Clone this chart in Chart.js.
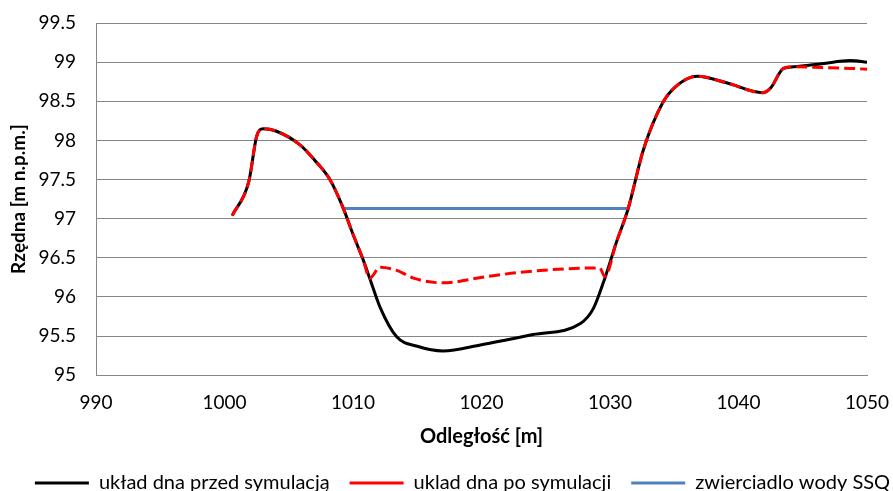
<!DOCTYPE html>
<html>
<head>
<meta charset="utf-8">
<script src="https://cdn.jsdelivr.net/npm/chart.js@4.4.1/dist/chart.umd.min.js"></script>
<style>
  html, body { margin: 0; padding: 0; background: #fff; overflow: hidden; }
  #wrap { width: 893px; height: 491px; overflow: hidden; }
  #box { width: 925px; height: 491px; }
</style>
</head>
<body>
<div id="wrap"><div id="box"><canvas id="myChart"></canvas></div></div>
<script>
// distances [m] and elevations [m n.p.m.]
const beforeX = [1000.6, 1001.9, 1002.5, 1003.0, 1004.0, 1005.9, 1007.0, 1008.2, 1009.2, 1010.0,
  1010.8, 1011.3, 1012.1, 1013.4, 1015.0, 1017.0, 1020.0, 1024.0, 1027.7, 1028.7,
  1029.6, 1030.5, 1031.4, 1032.6, 1034.1, 1035.2, 1036.8, 1039.0, 1041.9, 1042.5,
  1043.5, 1044.3, 1046.5, 1048.7, 1050.0];
const beforeY = [97.04, 97.48, 98.05, 98.15, 98.12, 97.94, 97.75, 97.5, 97.15, 96.8,
  96.47, 96.24, 95.87, 95.49, 95.37, 95.31, 95.39, 95.52, 95.66, 95.85,
  96.24, 96.7, 97.12, 97.88, 98.48, 98.7, 98.82, 98.74, 98.61, 98.67,
  98.92, 98.94, 98.98, 99.02, 99.0];

const afterX = [1000.6, 1001.9, 1002.5, 1003.0, 1004.0, 1005.9, 1007.0, 1008.2, 1009.2, 1010.0,
  1010.8, 1011.3, 1012.1, 1013.4, 1014.7, 1017.0, 1020.4, 1022.8, 1026.6, 1029.2,
  1029.6, 1030.5, 1031.4, 1032.6, 1034.1, 1035.2, 1036.8, 1039.0, 1041.9, 1042.5,
  1043.5, 1044.3, 1046.5, 1048.7, 1050.0];
const afterY = [97.04, 97.48, 98.05, 98.15, 98.12, 97.94, 97.75, 97.5, 97.15, 96.8,
  96.47, 96.24, 96.38, 96.34, 96.24, 96.18, 96.26, 96.31, 96.36, 96.37,
  96.26, 96.7, 97.12, 97.88, 98.48, 98.7, 98.82, 98.74, 98.61, 98.67,
  98.92, 98.94, 98.93, 98.92, 98.91];

const waterX = [1009.2, 1031.4];
const waterY = [97.13, 97.13];

const seriesNames = ['układ dna przed symulacją', 'uklad dna po symulacji', 'zwierciadlo wody SSQ'];
const xTitle = 'Odległość [m]';
const yTitle = 'Rzędna [m n.p.m.]';

function pts(xs, ys) {
  return xs.map((x, i) => ({ x: x, y: ys[i] }));
}

const gridColor = '#868686';
const font = 'Lato';

const ctx = document.getElementById('myChart').getContext('2d');
new Chart(ctx, {
  type: 'line',
  data: {
    datasets: [
      {
        label: seriesNames[0],
        data: pts(beforeX, beforeY),
        borderColor: '#000000',
        borderWidth: 3,
        order: 2
      },
      {
        label: seriesNames[1],
        data: pts(afterX, afterY),
        borderColor: '#ff0000',
        borderWidth: 3,
        borderDash: [11, 5],
        order: 0
      },
      {
        label: seriesNames[2],
        data: pts(waterX, waterY),
        borderColor: '#4f81bd',
        borderWidth: 3,
        order: 1
      }
    ]
  },
  options: {
    responsive: true,
    maintainAspectRatio: false,
    animation: false,
    layout: { padding: { top: 0, right: 0, left: 0, bottom: -12 } },
    elements: {
      point: { radius: 0 },
      line: { cubicInterpolationMode: 'monotone', fill: false }
    },
    plugins: {
      tooltip: { enabled: false },
      legend: {
        position: 'bottom',
        labels: {
          usePointStyle: true,
          pointStyle: 'line',
          pointStyleWidth: 54,
          padding: 20,
          color: '#000',
          font: { family: font, size: 20 },
          sort: (a, b) => a.datasetIndex - b.datasetIndex
        }
      }
    },
    scales: {
      x: {
        type: 'linear',
        min: 990,
        max: 1050,
        ticks: { stepSize: 10, padding: 16, color: '#000', font: { family: font, size: 19 },
          callback: v => String(v) },
        grid: { display: false, drawTicks: false },
        border: { display: true, color: gridColor, width: 1 },
        title: { display: true, text: xTitle, color: '#000', font: { family: font, size: 20, weight: 'bold' }, padding: { top: -5, bottom: 4 } }
      },
      y: {
        min: 95,
        max: 99.5,
        afterFit: s => { s.width = 96; s.paddingTop = 23; },
        ticks: { stepSize: 0.5, padding: 20, color: '#000', font: { family: font, size: 19 },
          callback: v => String(v) },
        grid: { color: gridColor, lineWidth: 1, drawTicks: false },
        border: { display: true, color: gridColor, width: 1 },
        title: { display: true, text: yTitle, color: '#000', font: { family: font, size: 19, weight: 'bold' }, padding: { top: 7, bottom: 0 } }
      },
      // empty axis on the right only to keep the plot narrower than the legend row
      yRight: {
        position: 'right',
        display: true,
        afterFit: s => { s.width = 58; s.paddingTop = 0; },
        ticks: { display: false },
        grid: { display: false, drawTicks: false },
        border: { display: false }
      }
    }
  }
});
</script>
</body>
</html>
